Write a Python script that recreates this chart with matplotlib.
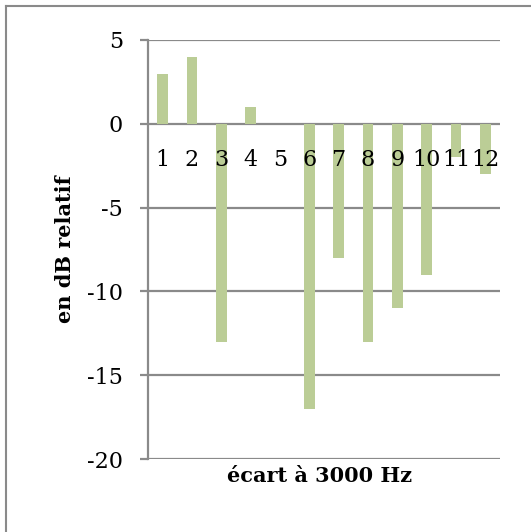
import matplotlib
matplotlib.use("Agg")
import matplotlib.pyplot as plt
from matplotlib.lines import Line2D

categories = ["1", "2", "3", "4", "5", "6", "7", "8", "9", "10", "11", "12"]
values = [3, 4, -13, 1, 0, -17, -8, -13, -11, -9, -2, -3]
yticks = [5, 0, -5, -10, -15, -20]

plt.rcParams['font.family'] = ['DejaVu Serif']

fig = plt.figure(figsize=(5.31, 5.32), dpi=100)
ax = fig.add_axes([148/531, 1-459/532, (500-148)/531, (459-40)/532])

grid_c = "#8a8a8a"
x = list(range(len(categories)))
ax.bar(x, values, width=0.37, color="#bbcd96", zorder=3)
ax.set_xlim(-0.5, len(categories)-0.5)
ax.set_ylim(-20, 5)
ax.set_yticks(yticks)
ax.set_yticklabels([str(v) for v in yticks], fontsize=16)
ax.yaxis.grid(True, color=grid_c, linewidth=1.6, zorder=1)
ax.set_axisbelow(True)
for s in ["top", "right", "bottom"]:
    ax.spines[s].set_visible(False)
ax.spines["left"].set_color(grid_c)
ax.spines["left"].set_linewidth(1.6)
ax.tick_params(axis="y", length=6, width=1.6, color=grid_c, pad=12)
ax.set_xticks([])

# category labels just below the zero line, drawn over the bars
for xi, lab in zip(x, categories):
    ax.text(xi, -2.15, lab, fontsize=16, ha="center", va="center", zorder=6)

ax.set_ylabel("en dB relatif", fontsize=15, fontweight="bold")
ax.yaxis.set_label_coords(-0.207, 0.5)
fig.text(320/531, 1-476/532, "écart à 3000 Hz", fontsize=15, fontweight="bold",
         ha="center", va="center")

# outer border
fig.add_artist(Line2D([6/531, 6/531], [0, 1-6/532], color="#8a8a8a", linewidth=1.5,
                      transform=fig.transFigure))
fig.add_artist(Line2D([6/531, 1], [1-6/532, 1-6/532], color="#8a8a8a", linewidth=1.5,
                      transform=fig.transFigure))

fig.savefig("out.png", dpi=100)
